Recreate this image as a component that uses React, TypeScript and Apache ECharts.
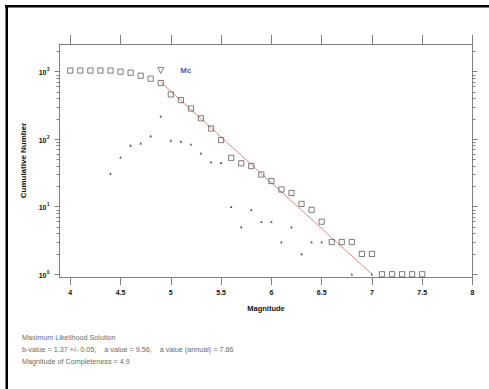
import React, { useEffect, useRef } from "react";
import * as echarts from "echarts";

const magnitudes = [
  4.0, 4.1, 4.2, 4.3, 4.4, 4.5, 4.6, 4.7, 4.8, 4.9, 5.0, 5.1, 5.2, 5.3, 5.4, 5.5, 5.6, 5.7,
  5.8, 5.9, 6.0, 6.1, 6.2, 6.3, 6.4, 6.5, 6.6, 6.7, 6.8, 6.9, 7.0, 7.1, 7.2, 7.3, 7.4, 7.5,
];
const cumulative = [
  1040, 1040, 1040, 1040, 1040, 1000, 966, 872, 787, 678, 460, 379, 285, 204, 144, 97, 53, 44,
  40, 30, 24, 18, 16, 11, 9, 6, 3, 3, 3, 2, 2, 1, 1, 1, 1, 1,
];
const binMagnitudes = [
  4.4, 4.5, 4.6, 4.7, 4.8, 4.9, 5.0, 5.1, 5.2, 5.3, 5.4, 5.5, 5.6, 5.7, 5.8, 5.9, 6.0, 6.1,
  6.2, 6.3, 6.4, 6.5, 6.8, 7.0,
];
const binCounts = [
  31, 54, 81, 87, 112, 219, 96, 93, 84, 62, 46, 45, 10, 5, 9, 6, 6, 3, 5, 2, 3, 3, 1, 1,
];
const fitLine = [
  [4.9, 700],
  [7.0, 1],
];
const mcPoint = [4.9, 1040];
const mcLabelPoint = [5.15, 1040];

const xTicks = [4, 4.5, 5, 5.5, 6, 6.5, 7, 7.5, 8];
const yMajor = [1, 10, 100, 1000];
const yMinor = [
  2, 3, 4, 5, 6, 7, 8, 9, 20, 30, 40, 50, 60, 70, 80, 90, 200, 300, 400, 500, 600, 700, 800,
  900, 2000,
];
const infoLines = [
  "Maximum Likelihood Solution",
  "b-value = 1.37 +/- 0.05,    a value = 9.56,    a value (annual) = 7.86",
  "Magnitude of Completeness = 4.9",
];

const FONT = "'Liberation Sans', Arial, sans-serif";
const AXIS_COLOR = "#808080";
const X_MIN = 3.893;
const X_MAX = 8;
const Y_MIN = 0.91;
const Y_MAX = 2570;

export default function App() {
  const ref = useRef<HTMLDivElement>(null);

  useEffect(() => {
    if (!ref.current) return;
    const chart = echarts.init(ref.current, undefined, { renderer: "svg" });

    const axisLine = { show: true, lineStyle: { color: AXIS_COLOR, width: 1 } };

    const yBase = (position: "left" | "right", values: number[], len: number, labels: boolean, line: boolean, name?: string) => ({
      type: "log",
      logBase: 10,
      position,
      min: Y_MIN,
      max: Y_MAX,
      offset: 0,
      name: name,
      nameLocation: "middle",
      nameGap: 29,
      nameTextStyle: { fontFamily: FONT, fontWeight: "bold", fontSize: 8, color: "#111" },
      axisLine: line ? axisLine : { show: false },
      axisTick: {
        show: true,
        inside: false,
        length: len,
        customValues: values,
        lineStyle: { color: AXIS_COLOR, width: 1 },
      },
      axisLabel: labels
        ? {
            show: true,
            customValues: values,
            margin: 10,
            formatter: (v: number) => `{b|10}{s|${Math.round(Math.log10(v))}}`,
            rich: {
              b: { fontFamily: FONT, fontWeight: "bold", fontSize: 7, color: "#111", lineHeight: 9, verticalAlign: "bottom" },
              s: { fontFamily: FONT, fontWeight: "bold", fontSize: 4.5, color: "#111", lineHeight: 9, verticalAlign: "top", padding: [0, 0, 0, 0.5] },
            },
          }
        : { show: false },
      splitLine: { show: false },
      minorTick: { show: false },
    });

    const option: any = {
      animation: false,
      backgroundColor: "#ffffff",
      grid: { left: 59.5, right: 16.5, top: 44, bottom: 112, containLabel: false },
      xAxis: [
        {
          type: "value",
          position: "bottom",
          min: X_MIN,
          max: X_MAX,
          name: "Magnitude",
          nameLocation: "middle",
          nameGap: 27,
          nameTextStyle: { fontFamily: FONT, fontWeight: "bold", fontSize: 7.5, color: "#111" },
          axisLine,
          axisTick: { show: true, length: 8, customValues: xTicks, lineStyle: { color: AXIS_COLOR } },
          axisLabel: {
            show: true,
            customValues: xTicks,
            margin: 12,
            fontFamily: FONT,
            fontWeight: "bold",
            fontSize: 7,
            color: "#111",
            formatter: (v: number) => String(v),
          },
          splitLine: { show: false },
        },
        {
          type: "value",
          position: "top",
          min: X_MIN,
          max: X_MAX,
          axisLine,
          axisTick: { show: true, length: 9, customValues: xTicks, lineStyle: { color: AXIS_COLOR } },
          axisLabel: { show: false },
          splitLine: { show: false },
        },
      ],
      yAxis: [
        yBase("left", yMajor, 5, true, true, "Cumulative Number"),
        yBase("left", yMinor, 3, false, false),
        yBase("right", yMajor, 5, false, true),
        yBase("right", yMinor, 3, false, false),
      ],
      series: [
        {
          type: "line",
          name: "fit",
          xAxisIndex: 0,
          yAxisIndex: 0,
          data: fitLine,
          showSymbol: false,
          symbol: "none",
          lineStyle: { color: "#d4908f", width: 1 },
          z: 2,
        },
        {
          type: "scatter",
          name: "cumulative",
          xAxisIndex: 0,
          yAxisIndex: 0,
          data: magnitudes.map((m, i) => [m, cumulative[i]]),
          symbol: "rect",
          symbolSize: 5.2,
          itemStyle: { color: "rgba(255,255,255,0)", borderColor: "#4a4a4a", borderWidth: 0.9 },
          z: 3,
        },
        {
          type: "scatter",
          name: "non-cumulative",
          xAxisIndex: 0,
          yAxisIndex: 0,
          data: binMagnitudes.map((m, i) => [m, binCounts[i]]),
          symbol: "triangle",
          symbolSize: 2.6,
          itemStyle: { color: "#2a2a2a" },
          z: 4,
        },
        {
          type: "scatter",
          name: "Mc",
          xAxisIndex: 0,
          yAxisIndex: 0,
          data: [mcPoint],
          symbol: "triangle",
          symbolRotate: 180,
          symbolSize: 6,
          itemStyle: { color: "#ffffff", borderColor: "#555", borderWidth: 0.9 },
          z: 4,
        },
        {
          type: "scatter",
          name: "McLabel",
          xAxisIndex: 0,
          yAxisIndex: 0,
          data: [mcLabelPoint],
          symbolSize: 0,
          label: {
            show: true,
            position: "inside",
            formatter: "Mc",
            fontFamily: FONT,
            fontWeight: "bold",
            fontSize: 8,
            color: "#1f1f8a",
          },
          z: 5,
        },
      ],
      graphic: [
        { type: "rect", shape: { x: 5, y: 5, width: 484, height: 2.5 }, style: { fill: "#000" }, silent: true },
        { type: "rect", shape: { x: 5.5, y: 5, width: 2.5, height: 384 }, style: { fill: "#000" }, silent: true },
        ...infoLines.map((t, i) => ({
          type: "text",
          left: 22,
          top: 334 + i * 11.8,
          style: {
            text: t,
            fontFamily: FONT,
            fontSize: 7.2,
            fill: "#6a6a6a",
          },
          silent: true,
        })),
      ],
    };

    chart.setOption(option);
    return () => chart.dispose();
  }, []);

  return (
    <div
      ref={ref}
      style={{ position: "fixed", left: 0, top: 0, width: 489, height: 389, background: "#fff" }}
    />
  );
}
